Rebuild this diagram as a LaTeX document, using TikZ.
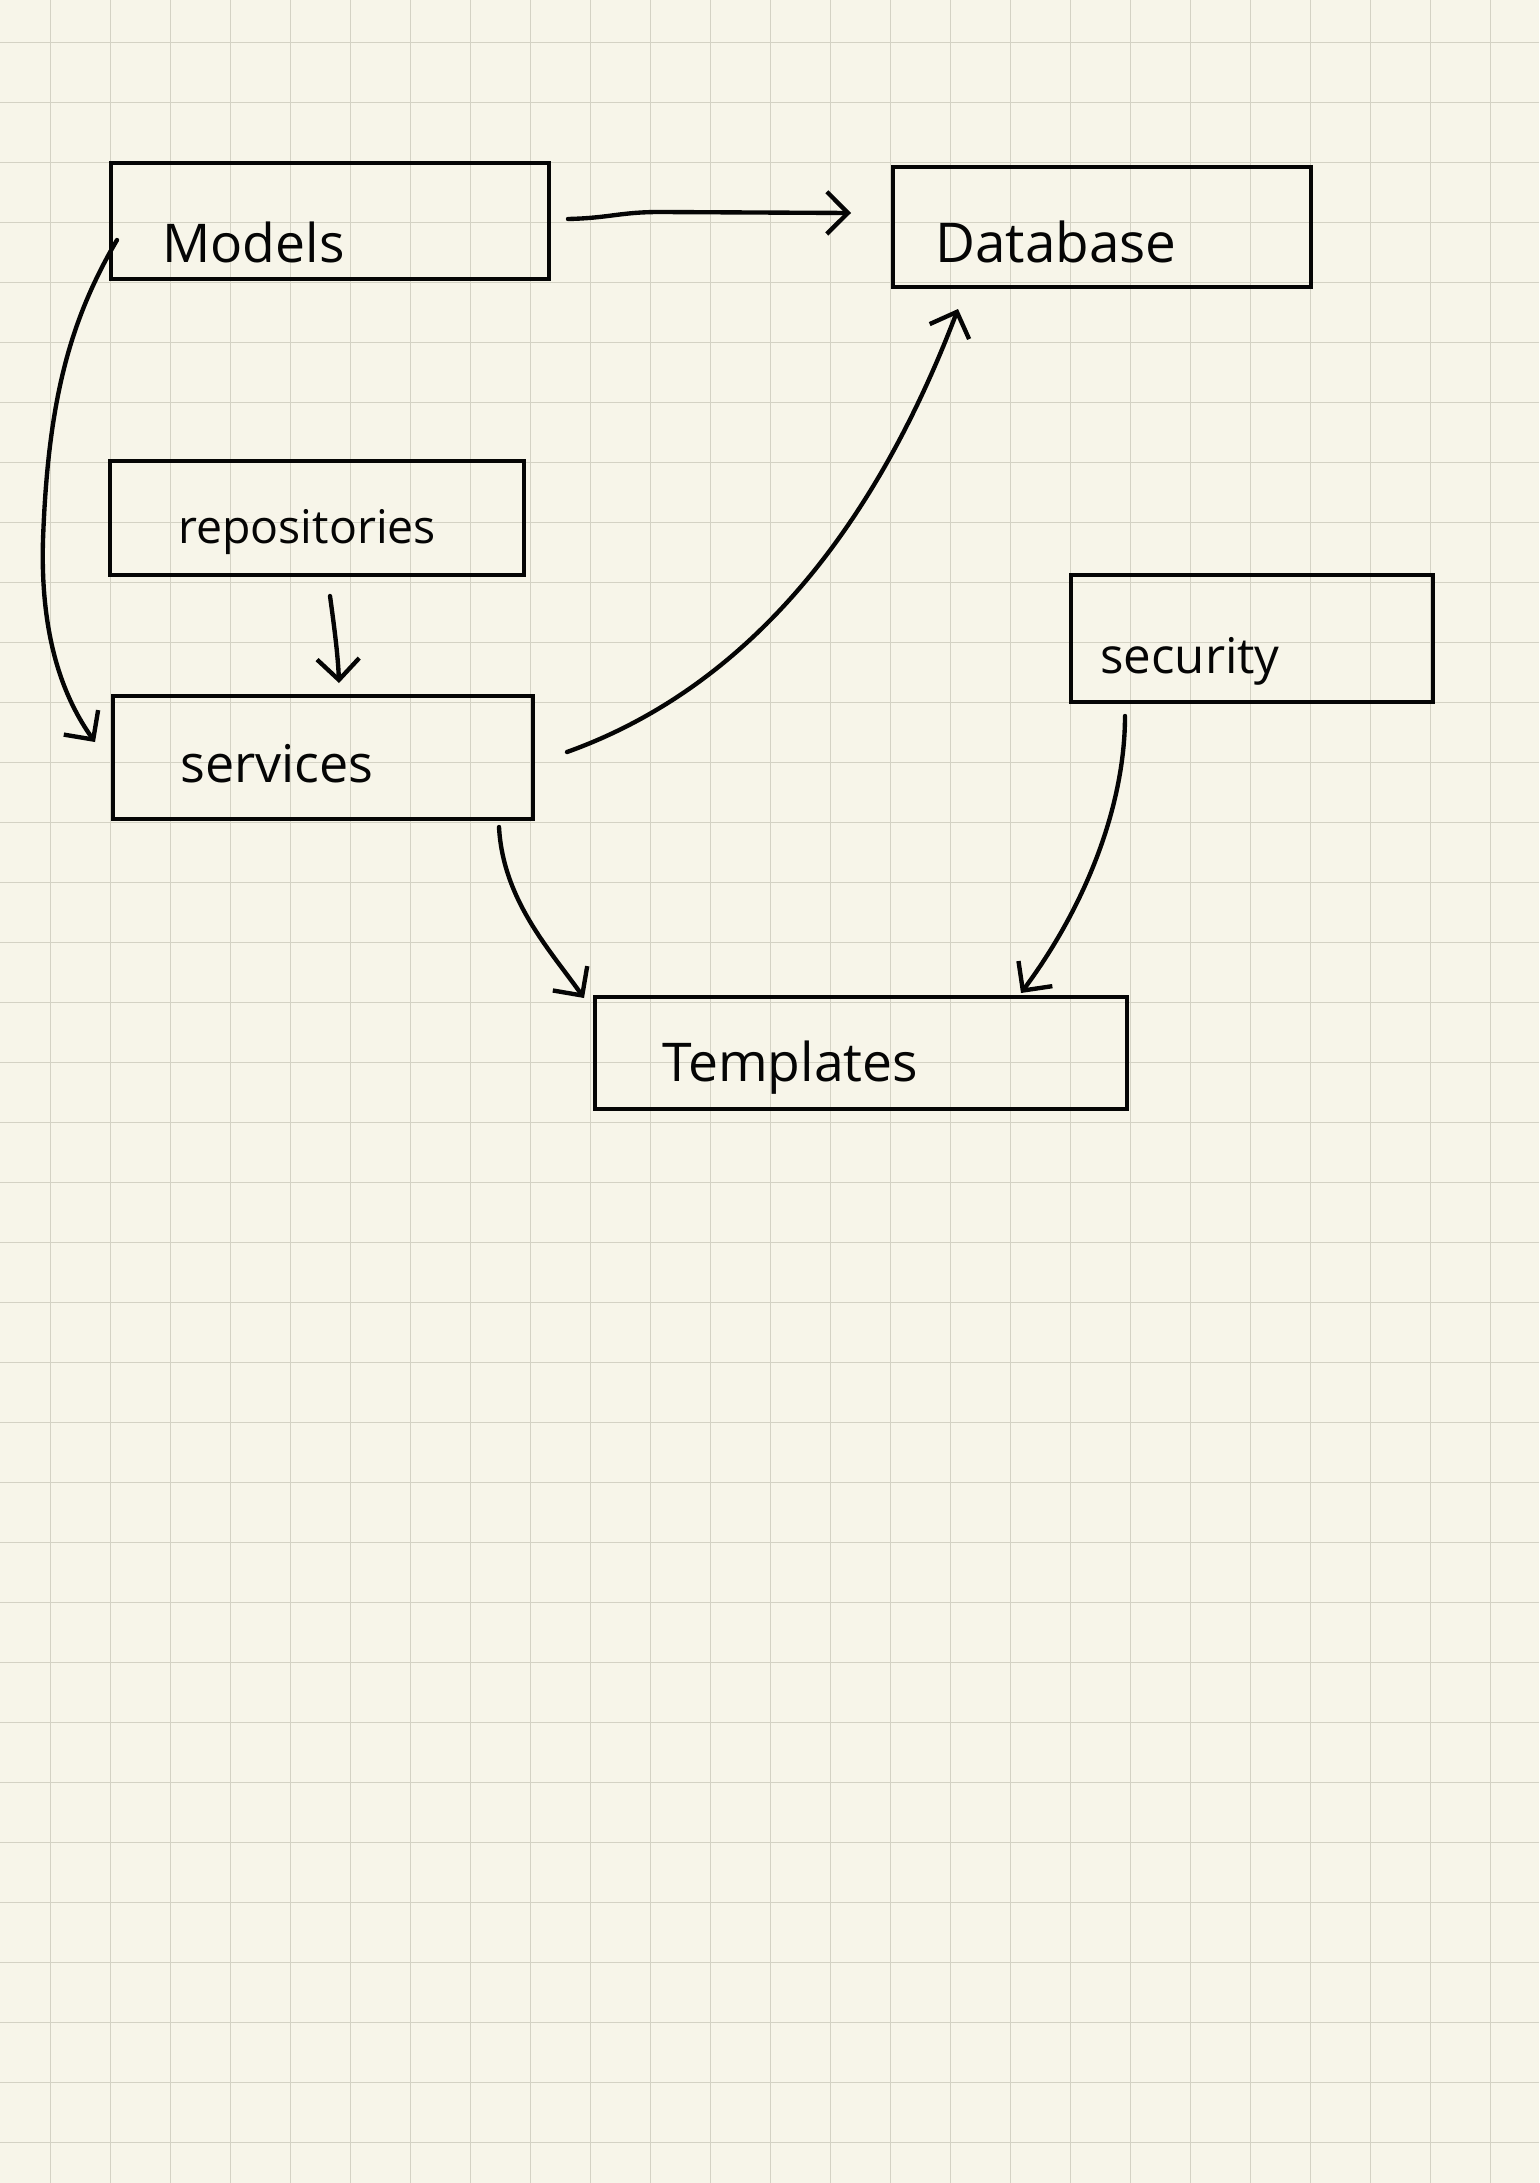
\documentclass[tikz,border=0pt]{standalone}
\usepackage{fontspec}
\setmainfont{Open Sans}
\usetikzlibrary{arrows.meta}
\definecolor{paper}{RGB}{247,245,233}
\definecolor{gridc}{RGB}{212,210,196}
\definecolor{ink}{RGB}{5,5,5}
\newlength\pxu
\setlength\pxu{0.025cm}
\tikzset{
  boxnode/.style={draw=ink, line width=3.3pt, rectangle, inner sep=0pt},
  lbl/.style={anchor=base west, inner sep=0pt, text=ink, font=\fontsize{38}{44}\selectfont},
  conn/.style={draw=ink, line width=3.1pt, line cap=round, line join=round,
    -{Straight Barb[length=15pt,width=30pt,line width=3.1pt]}},
}
\begin{document}
\begin{tikzpicture}[x=0.025cm,y=-0.025cm]
\useasboundingbox[fill=paper] (0,0) rectangle (1539,2183);
% grid
\foreach \i in {0,...,24} {\draw[gridc, line width=1pt] (50.7+60*\i,0) -- (50.7+60*\i,2183);}
\foreach \j in {0,...,35} {\draw[gridc, line width=1pt] (0,42.3+60*\j) -- (1539,42.3+60*\j);}

% boxes
\node[boxnode, minimum width=438\pxu, minimum height=116\pxu] (models) at (330,221) {};
\node[boxnode, minimum width=418\pxu, minimum height=120\pxu] (database) at (1102,227) {};
\node[boxnode, minimum width=414\pxu, minimum height=114\pxu] (repos) at (317,518) {};
\node[boxnode, minimum width=420\pxu, minimum height=123\pxu] (services) at (323,757.5) {};
\node[boxnode, minimum width=362\pxu, minimum height=127\pxu] (security) at (1252,638.5) {};
\node[boxnode, minimum width=532\pxu, minimum height=112\pxu] (templates) at (861,1053) {};

% labels
\node[lbl] (tmodels) at (162,262) {Models};
\node[lbl, font=\fontsize{39}{44}\selectfont] (tdatabase) at (935,262) {Database};
\node[lbl, font=\fontsize{33}{40}\selectfont] (trepos) at (178,543) {repositories};
\node[lbl, font=\fontsize{37}{44}\selectfont] (tservices) at (180,782) {services};
\node[lbl, font=\fontsize{35}{42}\selectfont] (tsecurity) at (1100,673) {security};
\node[lbl] (ttemplates) at (662,1081) {Templates};

% connector end points
\coordinate (mdS) at (568,219);
\coordinate (mdE) at (851,213);
\coordinate (msS) at (117,240);
\coordinate (msM) at (43,540);
\coordinate (msE) at (95,742);
\coordinate (rsS) at (330,596);
\coordinate (rsE) at (339,683);
\coordinate (sdS) at (567,752);
\coordinate (sdE) at (958,309);
\coordinate (stS) at (499,827);
\coordinate (stE) at (584,998);
\coordinate (ytS) at (1125,716);
\coordinate (ytE) at (1021,993);

% connectors
\draw[conn] (mdS) .. controls (610,218) and (620,212) .. (660,212) -- (mdE);
\draw[conn] (msS) .. controls (70,320) and (48,400) .. (msM) .. controls (40,640) and (65,700) .. (msE);
\draw[conn] (rsS) .. controls (334,625) and (338,655) .. (rsE);
\draw[conn] (sdS) .. controls (740,690) and (870,540) .. (sdE);
\draw[conn] (stS) .. controls (503,900) and (550,950) .. (stE);
\draw[conn] (ytS) .. controls (1125,800) and (1090,900) .. (ytE);
\end{tikzpicture}
\end{document}
